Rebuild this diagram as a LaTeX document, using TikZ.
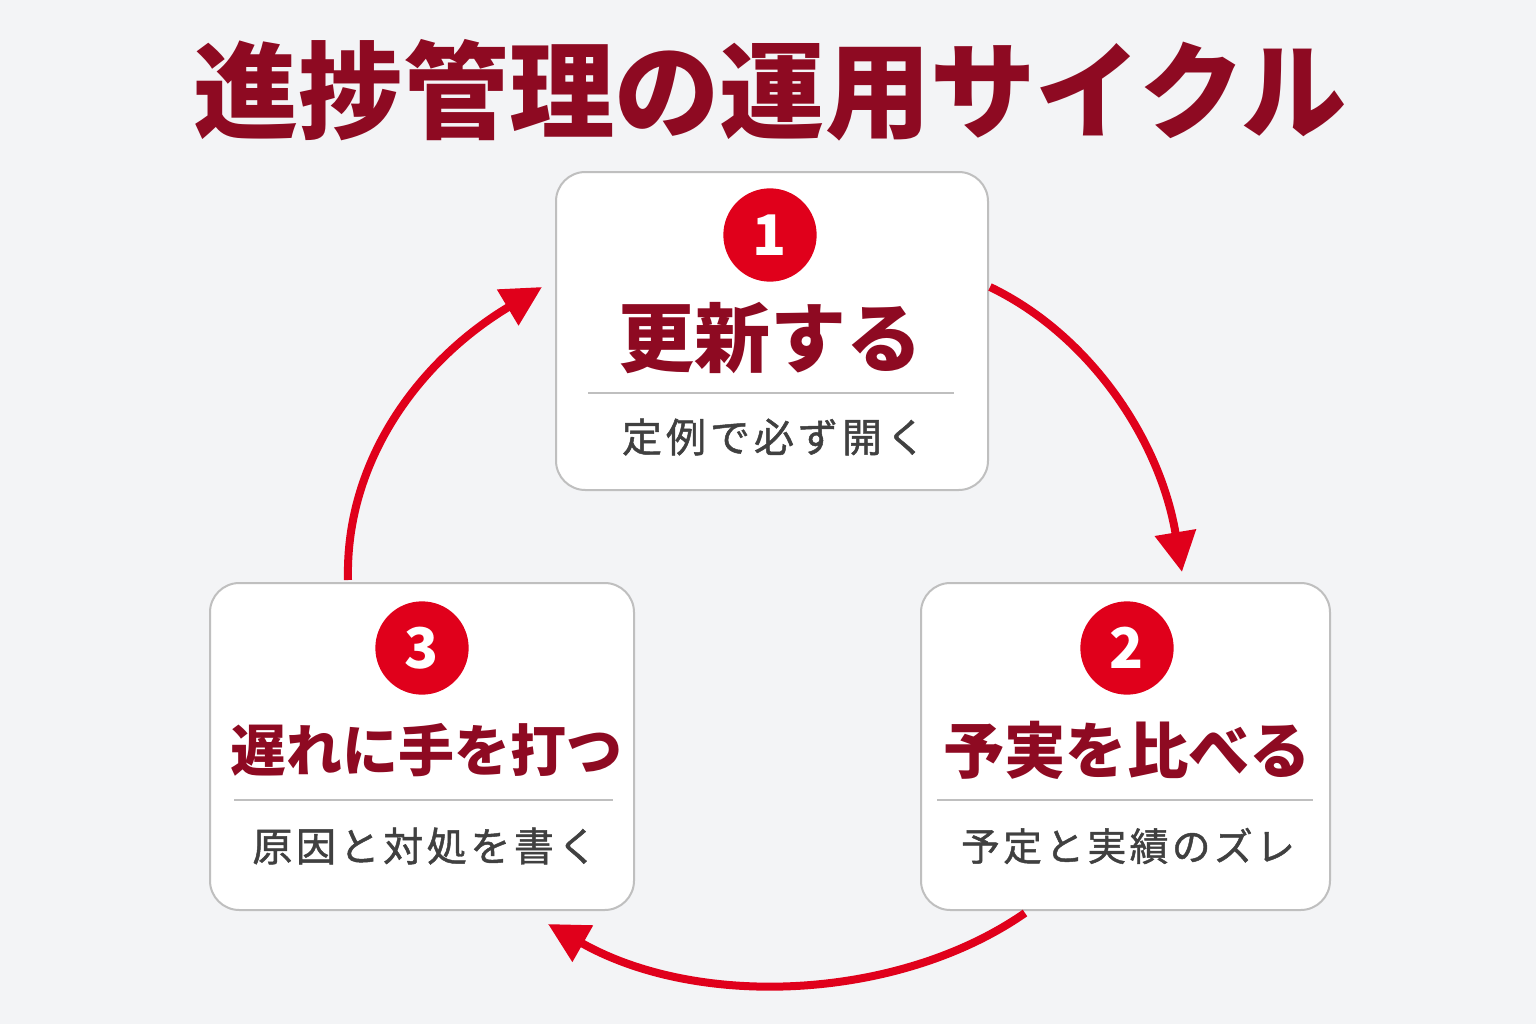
\documentclass[tikz,border=0pt]{standalone}
\usepackage{fontspec}
\setmainfont{Noto Sans CJK JP}
\usetikzlibrary{arrows.meta}
\definecolor{dred}{HTML}{8E0A22}
\definecolor{bred}{HTML}{E0001B}
\definecolor{bg}{HTML}{F3F4F6}
\definecolor{sub}{HTML}{404040}
\begin{document}
\begin{tikzpicture}[x=0.75pt,y=-0.75pt,
  box/.style={draw=black!25,line width=1.5pt,fill=white,rounded corners=22pt},
  num/.style={circle,fill=bred,minimum size=70pt,inner sep=0,text=white,font=\fontsize{42}{42}\selectfont\bfseries},
  main/.style={text=dred,font=\bfseries},
  subt/.style={text=sub},
  arr/.style={draw=bred,line width=6pt,-{Triangle[length=30pt,width=30pt]}}]
\useasboundingbox (0,0) rectangle (1536,1024);
\fill[bg] (0,0) rectangle (1536,1024);
\node[text=dred,font=\fontsize{79}{79}\selectfont\bfseries] (title) at (770,90) {進捗管理の運用サイクル};
% box1
\draw[box] (556,172) rectangle (988,490);
\node (b1) at (772,331) [minimum width=324pt,minimum height=238pt] {};
\node[num] (n1) at (770,235) {1};
\node[main,font=\fontsize{57}{57}\selectfont\bfseries] (m1) at (770,338) {更新する};
\draw[black!25,line width=1.2pt] (588,393) -- (954,393);
\node[subt,font=\fontsize{30}{30}\selectfont\addfontfeature{LetterSpace=10,FakeBold=1.2}] (s1) at (774,437) {定例で必ず開く};
% box2
\draw[box] (921,583) rectangle (1330,910);
\node (b2) at (1125,746) [minimum width=307pt,minimum height=245pt] {};
\node[num] (n2) at (1127,648) {2};
\node[main,font=\fontsize{46}{46}\selectfont\bfseries] (m2) at (1127,750) {予実を比べる};
\draw[black!25,line width=1.2pt] (937,800) -- (1313,800);
\node[subt,font=\fontsize{29}{29}\selectfont\addfontfeature{LetterSpace=9,FakeBold=1.2}] (s2) at (1128,846) {予定と実績のズレ};
% box3
\draw[box] (210,583) rectangle (634,910);
\node (b3) at (422,746) [minimum width=318pt,minimum height=245pt] {};
\node[num] (n3) at (422,648) {3};
\node[main,font=\fontsize{42}{42}\selectfont\bfseries] (m3) at (426,750) {遅れに手を打つ};
\draw[black!25,line width=1.2pt] (234,800) -- (613,800);
\node[subt,font=\fontsize{30}{30}\selectfont\addfontfeature{LetterSpace=9,FakeBold=1.2}] (s3) at (425,846) {原因と対処を書く};
% arrows
\coordinate (a1s) at (990,287); \coordinate (a1e) at (1182,572);
\coordinate (a2s) at (1025,913); \coordinate (a2e) at (548,924);
\coordinate (a3s) at (348,580); \coordinate (a3e) at (542,287);
\draw[arr] (a1s) .. controls (1090,335) and (1160,440) .. (a1e);
\draw[arr] (a2s) .. controls (900,1000) and (700,1010) .. (a2e);
\draw[arr] (a3s) .. controls (345,460) and (420,360) .. (a3e);
\end{tikzpicture}
\end{document}
